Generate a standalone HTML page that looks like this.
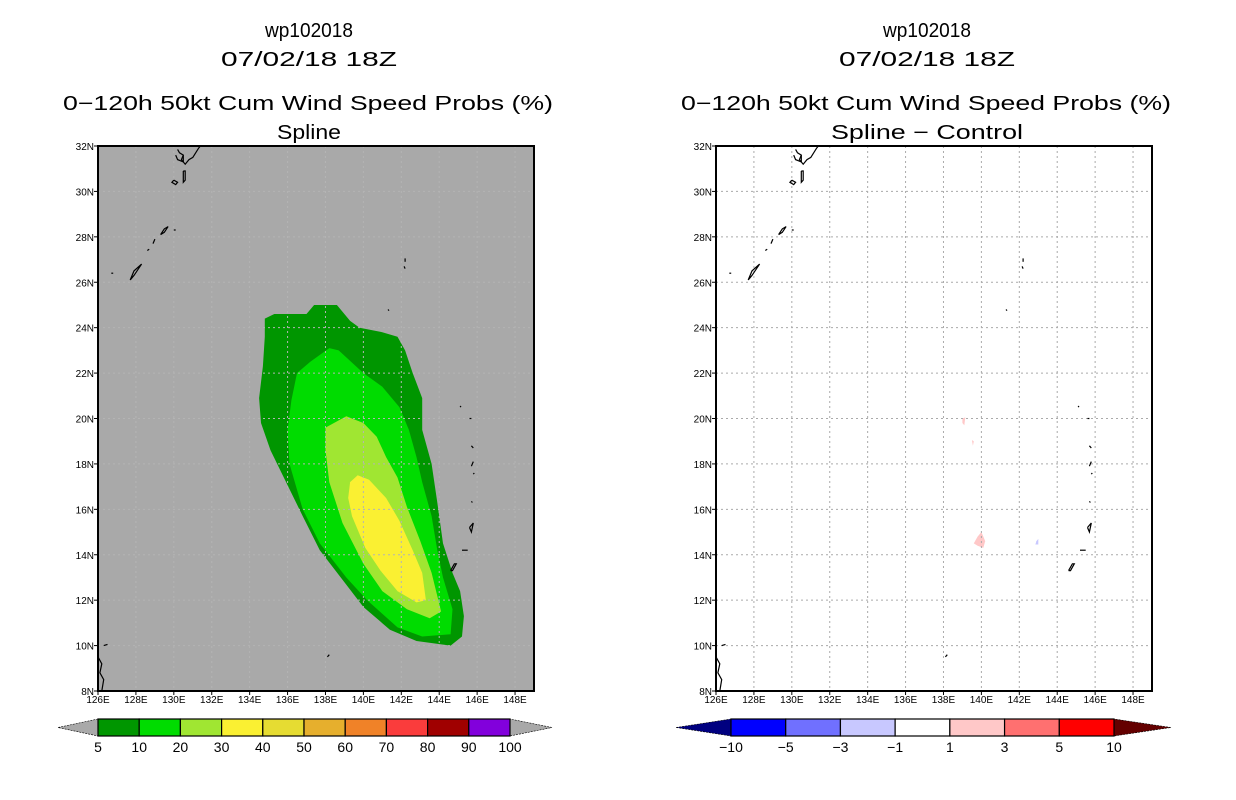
<!DOCTYPE html>
<html><head><meta charset="utf-8"><style>
html,body{margin:0;padding:0;background:#fff;}
svg{display:block;font-family:"Liberation Sans",sans-serif;}
</style></head><body>
<svg id="fig" width="1236" height="800" viewBox="0 0 1236 800">
<g fill="#000" text-anchor="middle" font-size="20">
<text x="309" y="37" textLength="88" lengthAdjust="spacingAndGlyphs">wp102018</text>
<text x="309" y="66" textLength="176" lengthAdjust="spacingAndGlyphs">07/02/18 18Z</text>
<text x="308" y="110" textLength="490" lengthAdjust="spacingAndGlyphs">0−120h 50kt Cum Wind Speed Probs (%)</text>
<text x="309" y="139" textLength="64" lengthAdjust="spacingAndGlyphs">Spline</text>
</g>
<g fill="#000" text-anchor="middle" font-size="20">
<text x="927" y="37" textLength="88" lengthAdjust="spacingAndGlyphs">wp102018</text>
<text x="927" y="66" textLength="176" lengthAdjust="spacingAndGlyphs">07/02/18 18Z</text>
<text x="926" y="110" textLength="490" lengthAdjust="spacingAndGlyphs">0−120h 50kt Cum Wind Speed Probs (%)</text>
<text x="927" y="139" textLength="192" lengthAdjust="spacingAndGlyphs">Spline − Control</text>
</g>
<g id="leftMap"></g>
<g id="rightMap"></g>
<g id="leftBar"></g>
<g id="rightBar"></g>
</svg>
<script>
const lonTicks=[126,128,130,132,134,136,138,140,142,144,146,148];
const latTicks=[8,10,12,14,16,18,20,22,24,26,28,30,32];
// contour polygons: [lon, lat]
const prob5=[[134.8,24.4],[135.3,24.6],[136.3,24.6],[137.0,24.6],[137.4,25.0],[138.6,25.0],[139.3,24.3],[139.8,24.0],[141.0,23.8],[141.8,23.6],[142.2,23.0],[142.6,22.0],[143.1,20.9],[143.1,19.5],[143.6,18.0],[143.9,16.3],[144.2,14.5],[144.7,13.2],[145.1,12.4],[145.3,11.3],[145.2,10.4],[144.6,10.0],[142.8,10.2],[141.4,10.7],[140.0,11.7],[138.9,12.9],[137.7,14.2],[136.8,15.7],[135.8,17.4],[135.1,18.6],[134.6,19.8],[134.5,20.9],[134.7,22.3],[134.8,23.6]];
const prob10=[[136.5,22.0],[137.2,22.5],[138.2,23.1],[138.7,23.0],[140.0,22.0],[141.0,21.4],[141.9,20.5],[142.4,19.5],[142.8,18.3],[143.1,17.2],[143.6,15.7],[143.9,14.2],[144.2,13.0],[144.7,11.6],[144.6,10.5],[143.1,10.4],[141.8,10.8],[140.2,12.0],[139.1,13.0],[137.7,14.5],[136.8,16.0],[136.1,18.0],[136.0,19.5],[136.2,20.8]];
const prob20=[[138.0,19.6],[139.1,20.1],[140.0,19.8],[140.7,19.2],[141.2,18.3],[141.8,17.4],[142.3,16.1],[143.0,14.6],[143.6,13.2],[144.1,11.5],[143.5,11.2],[142.3,11.6],[141.0,12.4],[140.0,13.6],[138.9,15.4],[138.2,17.2],[138.0,18.6]];
const prob30=[[139.3,17.2],[139.7,17.5],[140.3,17.3],[141.2,16.5],[141.9,15.5],[142.6,14.2],[143.1,13.2],[143.3,12.0],[142.8,11.9],[141.8,12.4],[140.9,13.3],[140.1,14.3],[139.4,15.7],[139.2,16.5]];
const diffPos1=[[139.0,20.0],[139.15,20.05],[139.1,19.7],[139.0,19.8]];
const diffPos2=[[139.5,19.05],[139.6,19.0],[139.55,18.8]];
const diffPos3=[[139.8,14.8],[140.0,15.0],[140.2,14.6],[140.1,14.3],[139.8,14.4],[139.6,14.5]];
const diffNeg1=[[142.9,14.6],[143.0,14.7],[143.0,14.45],[142.85,14.45]];
const leftLevels=['5','10','20','30','40','50','60','70','80','90','100'];
const leftColors=['#009600','#00dc00','#a0e632','#faf032','#e6dc32','#e6af2d','#f08228','#fa3c3c','#a00000','#8200dc'];
const rightLevels=['−10','−5','−3','−1','1','3','5','10'];
const rightColors=['#0000ff','#7070ff','#c8c8ff','#ffffff','#ffc8c8','#ff7070','#ff0000'];
// islands (lon,lat polylines)
const islands=[
[[130.2,31.85],[130.3,31.7],[130.5,31.6],[130.4,31.4],[130.6,31.2],[130.8,31.4],[131.0,31.5],[131.3,31.9],[131.4,32.0]],
[[130.1,31.6],[130.2,31.4],[130.5,31.3],[130.5,31.6]],
[[130.5,30.9],[130.6,30.9],[130.6,30.5],[130.5,30.4],[130.5,30.9]],
[[130.0,30.5],[130.2,30.4],[130.1,30.3],[129.9,30.4],[130.0,30.5]],
[[129.3,28.1],[129.5,28.35],[129.7,28.45],[129.5,28.2],[129.3,28.1]],
[[128.9,27.7],[129.0,27.9]],
[[128.6,27.4],[128.7,27.45]],
[[127.7,26.1],[127.9,26.5],[128.3,26.8],[127.9,26.3],[127.7,26.1]],
[[126.7,26.4],[126.8,26.4]],
[[130.0,28.3],[130.1,28.3]],
[[142.2,27.05],[142.2,26.9]],[[142.15,26.7],[142.2,26.6]],
[[141.3,24.8],[141.35,24.75]],
[[145.1,20.55],[145.15,20.5]],[[145.6,20.0],[145.7,20.0]],
[[145.7,18.8],[145.8,18.7]],[[145.8,18.1],[145.7,17.9]],[[145.85,17.6],[145.8,17.55]],
[[145.7,16.35],[145.75,16.3]],[[145.6,15.2],[145.8,15.4],[145.7,15.0],[145.6,15.2]],
[[145.2,14.2],[145.5,14.2]],
[[144.6,13.3],[144.8,13.6],[144.9,13.6],[144.7,13.3],[144.6,13.3]],
[[138.1,9.5],[138.2,9.6]],
[[126.0,9.5],[126.2,9.2],[126.1,8.8],[126.3,8.5],[126.2,8.0]],[[126.3,10.0],[126.5,10.05]]
];
const NS='http://www.w3.org/2000/svg';
function mk(tag,attrs,parent){const e=document.createElementNS(NS,tag);for(const k in attrs)e.setAttribute(k,attrs[k]);parent.appendChild(e);return e;}
const Y0=146,Y1=691,W=436;
function xs(x0){return lon=>x0+(lon-126)*W/23;}
function ys(lat){return Y0+(32-lat)*(Y1-Y0)/24;}
function pts(arr,xf){return arr.map(p=>xf(p[0]).toFixed(1)+','+ys(p[1]).toFixed(1)).join(' ');}
function drawMap(g,x0,bg,fills,gridCol,prefix){
  const xf=xs(x0);
  const r=mk('rect',{x:x0,y:Y0,width:W,height:Y1-Y0,fill:bg},g);
  
  
  fills.forEach(f=>{
    const p=mk('polygon',{points:pts(f.d,xf),fill:f.c},g);
    
    
  });
  lonTicks.forEach(l=>{if(l===126)return;const ln=mk('line',{x1:xf(l),x2:xf(l),y1:Y0,y2:Y1,stroke:gridCol,'stroke-dasharray':'2,3','stroke-width':1},g);
    
    });
  latTicks.forEach(l=>{if(l===8||l===32)return;const ln=mk('line',{x1:x0,x2:x0+W,y1:ys(l),y2:ys(l),stroke:gridCol,'stroke-dasharray':'2,3','stroke-width':1},g);
    
    });
  islands.forEach(is=>{const pl=mk('polyline',{points:pts(is,xf),fill:'none',stroke:'#000','stroke-width':1.2},g);
    
    });
  const b=mk('rect',{x:x0,y:Y0,width:W,height:Y1-Y0,fill:'none',stroke:'#000','stroke-width':2},g);
  
  
  lonTicks.forEach(l=>{mk('line',{x1:xf(l),x2:xf(l),y1:Y1,y2:Y1+4,stroke:'#000'},g);
    const t=mk('text',{x:xf(l),y:Y1+12,'font-size':10,'text-anchor':'middle',fill:'#000'},g);t.textContent=l+'E';
    
    });
  latTicks.forEach(l=>{mk('line',{x1:x0-4,x2:x0,y1:ys(l),y2:ys(l),stroke:'#000'},g);
    const t=mk('text',{x:x0-4,y:ys(l)+4,'font-size':10,'text-anchor':'end',fill:'#000'},g);t.textContent=l+'N';
    
    });
}
drawMap(document.getElementById('leftMap'),98,'#a9a9a9',[
 {d:prob5,c:leftColors[0],n:'contour-5pct'},{d:prob10,c:leftColors[1],n:'contour-10pct'},
 {d:prob20,c:leftColors[2],n:'contour-20pct'},{d:prob30,c:leftColors[3],n:'contour-30pct'}],'#b4b4b4','left');
drawMap(document.getElementById('rightMap'),716,'#ffffff',[
 {d:diffPos1,c:'#ffc8c8',n:'diff-positive-a'},{d:diffPos2,c:'#ffc8c8',n:'diff-positive-b'},
 {d:diffPos3,c:'#ffc8c8',n:'diff-positive-c'},{d:diffNeg1,c:'#c8c8ff',n:'diff-negative'}],'#aaaaaa','right');
function drawBar(g,x0,x1,tipL,tipR,colors,labels,endL,endR){
  const y0=719,y1=736,bw=(x1-x0)/colors.length,ym=(y0+y1)/2;
  const a=mk('polygon',{points:`${tipL},${ym} ${x0},${y0} ${x0},${y1}`,fill:endL,stroke:'#000','stroke-width':0.6,'stroke-dasharray':'2,1'},g);
  
  
  const b=mk('polygon',{points:`${tipR},${ym} ${x1},${y0} ${x1},${y1}`,fill:endR,stroke:'#000','stroke-width':0.6,'stroke-dasharray':'2,1'},g);
  
  
  colors.forEach((c,i)=>{const r=mk('rect',{x:x0+i*bw,y:y0,width:bw,height:y1-y0,fill:c,stroke:'#000','stroke-width':1.2},g);
    
    });
  labels.forEach((l,i)=>{const t=mk('text',{x:x0+i*bw,y:752,'font-size':14,'text-anchor':'middle',fill:'#000'},g);t.textContent=l;
    
    });
}
drawBar(document.getElementById('leftBar'),98,510,58,552,leftColors,leftLevels,'#a9a9a9','#a9a9a9');
drawBar(document.getElementById('rightBar'),731,1114,676,1171,rightColors,rightLevels,'#000080','#640000');
</script>
</body></html>
